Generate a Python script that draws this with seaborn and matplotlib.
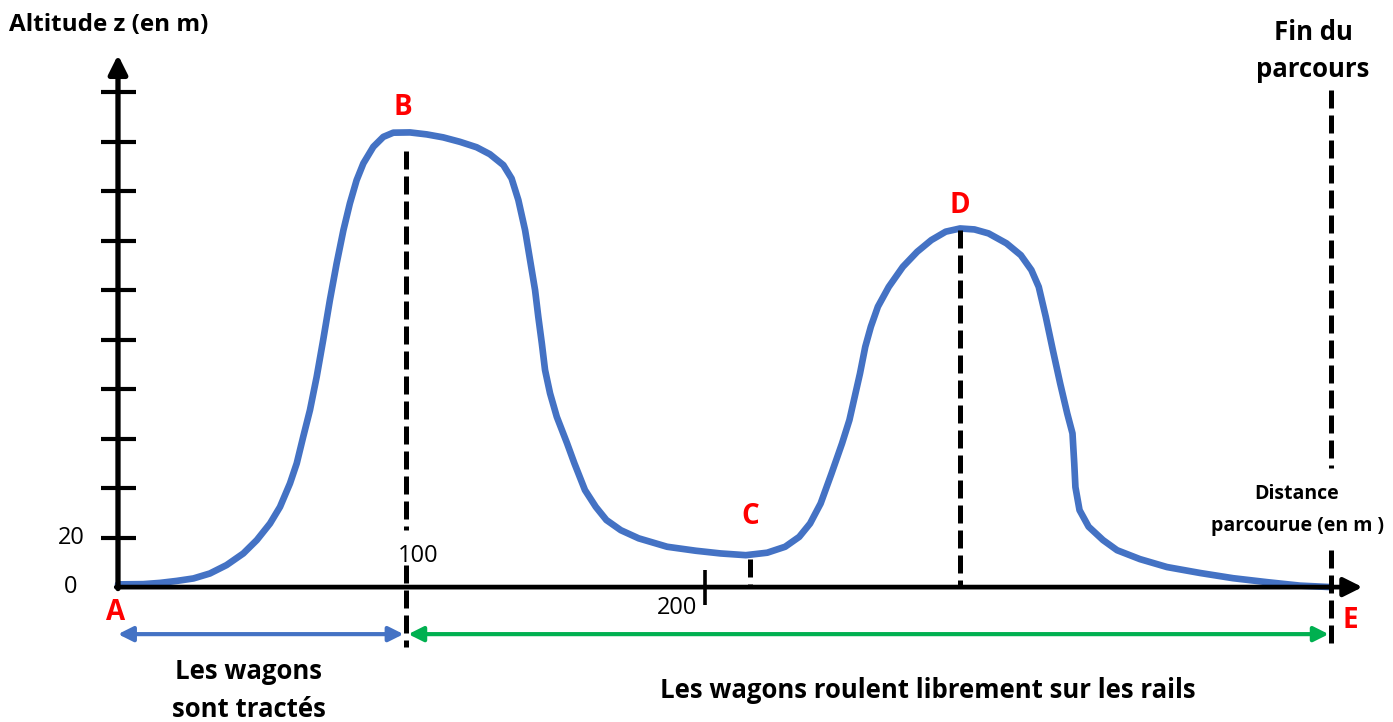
import numpy as np
import matplotlib
matplotlib.use("Agg")
import matplotlib.pyplot as plt
import seaborn as sns

distance = [0.0, 8.6, 14.3, 20.0, 25.7, 31.3, 37.0, 42.7, 47.3, 51.8, 55.2, 58.6,
            60.9, 63.1, 65.4, 67.7, 69.9, 72.2, 74.5, 76.8, 79.0, 81.3, 83.6, 87.0,
            90.4, 93.8, 99.5, 105.2, 110.8, 116.5, 122.2, 126.7, 131.3, 134.1, 136.4,
            138.7, 140.4, 142.1, 143.2, 144.4, 145.5, 147.2, 149.5, 153.0, 155.5,
            159.1, 162.8, 166.4, 171.3, 177.4, 187.1, 196.8, 205.3, 213.9, 221.2,
            227.3, 232.1, 235.8, 239.4, 243.1, 246.7, 249.2, 251.0, 252.8, 254.6,
            256.5, 258.9, 262.6, 267.4, 272.3, 277.1, 282.0, 286.9, 291.8, 296.6,
            302.7, 307.6, 311.2, 313.7, 316.1, 318.5, 321.0, 323.4, 325.2, 325.8,
            326.2, 327.6, 330.7, 335.6, 340.4, 348.2, 357.4, 368.7, 379.9, 391.5,
            402.7, 413.3]
altitude = [1.1, 1.2, 1.7, 2.5, 3.5, 5.5, 8.9, 13.6, 19.0, 25.7, 32.4, 41.9,
            50.0, 60.7, 71.5, 85.0, 99.8, 116.0, 130.8, 144.2, 155.0, 164.4, 171.2,
            177.9, 181.9, 183.6, 183.7, 182.9, 181.7, 179.9, 177.7, 174.9, 170.5,
            165.1, 156.4, 144.2, 132.1, 120.0, 109.2, 98.5, 87.7, 78.3, 68.8, 58.1,
            50.0, 39.2, 32.4, 27.1, 23.0, 19.7, 16.3, 14.7, 13.6, 12.9, 13.9, 16.3,
            20.3, 25.7, 33.8, 45.9, 58.1, 67.5, 76.9, 86.3, 97.1, 105.2, 113.3,
            121.3, 129.4, 135.5, 140.2, 143.6, 144.9, 144.5, 142.9, 138.9, 134.1,
            128.1, 121.3, 109.2, 95.8, 82.3, 70.2, 62.1, 50.0, 40.4, 31.1, 24.4,
            19.0, 14.9, 11.3, 8.1, 5.7, 3.6, 2.0, 0.6, 0.0]

# points remarquables
points = ["A", "B", "C", "D", "E"]
points_x = [0.0, 98.1, 215.3, 286.9, 413.3]
points_z = [0.0, 183.7, 12.9, 144.9, 0.0]

y_ticks = [20, 40, 60, 80, 100, 120, 140, 160, 180, 200]
y_tick_labels = ["0", "20"]
x_tick_labels = ["100", "200"]

blue = "#4472C4"
green = "#00B050"
red = "#FF0000"

sns.set_theme(style="white")
plt.rcParams['font.family'] = ['Open Sans', 'DejaVu Sans']

fig = plt.figure(figsize=(13.93, 7.22), dpi=100)
ax = fig.add_axes([0, 0, 1, 1])
ax.set_xlim(-40.2, 434.4)
ax.set_ylim(-54.5, 237.2)
ax.axis('off')

# axes avec fleches
ax.annotate("", xy=(0, 215), xytext=(0, -0.6),
            arrowprops=dict(arrowstyle="-|>", color="black", lw=3.8,
                            mutation_scale=28, shrinkA=0, shrinkB=0))
ax.annotate("", xy=(424, 0), xytext=(-0.6, 0),
            arrowprops=dict(arrowstyle="-|>", color="black", lw=3.4,
                            mutation_scale=28, shrinkA=0, shrinkB=0))
for t in y_ticks:
    ax.plot([-5.8, 6.1], [t, t], color="black", lw=3, solid_capstyle="butt")
ax.plot([200, 200], [6.9, -7.3], color="black", lw=2.6, solid_capstyle="butt")

# courbe
sns.lineplot(x=distance, y=altitude, ax=ax, color=blue, linewidth=4.8)
ax.lines[-1].set_solid_joinstyle("round")
ax.lines[-1].set_solid_capstyle("round")

# pointilles verticaux
dash = dict(color="black", lw=3.6, linestyle=(0, (3.6, 1.4)))
ax.plot([points_x[1]] * 2, [176, 23], **dash)
ax.plot([points_x[1]] * 2, [9, -24], **dash)
ax.plot([points_x[2]] * 2, [11.5, 0], **dash)
ax.plot([points_x[3]] * 2, [points_z[3] - 0.5, 0], **dash)
ax.plot([points_x[4]] * 2, [200.8, 48], **dash)
ax.plot([points_x[4]] * 2, [15, -24], **dash)

# fleches doubles
ax.annotate("", xy=(points_x[1] - 0.8, -19), xytext=(0, -19),
            arrowprops=dict(arrowstyle="<|-|>", color=blue, lw=3,
                            mutation_scale=22, shrinkA=0, shrinkB=0))
ax.annotate("", xy=(points_x[4] - 0.8, -19), xytext=(points_x[1] + 0.8, -19),
            arrowprops=dict(arrowstyle="<|-|>", color=green, lw=3,
                            mutation_scale=22, shrinkA=0, shrinkB=0))

# lettres
letter_pos = [(-0.7, -10.1), (97.1, 193.9), (215.3, 28.7), (286.9, 154.3), (419.8, -13.3)]
for name, (lx, ly) in zip(points, letter_pos):
    ax.text(lx, ly, name, color=red, fontsize=20, fontweight="bold",
            ha="center", va="center")

# graduations
num = dict(fontsize=17, ha="center", va="center", color="black")
ax.text(-16, 0, y_tick_labels[0], **num)
ax.text(-16, 20, y_tick_labels[1], **num)
ax.text(102.2, 12.5, x_tick_labels[0], **num)
ax.text(190.5, -8.5, x_tick_labels[1], **num)

# textes
bold = dict(fontweight="bold", ha="center", va="center", color="black")
ax.text(-3.1, 227.1, "Altitude z (en m)", fontsize=17.5, **bold)
ax.text(407.2, 216.6, "Fin du\nparcours", fontsize=18.5, linespacing=1.43, **bold)
ax.text(401.7, 31.1, "Distance\nparcourue (en m )", fontsize=14, linespacing=1.8, **bold)
ax.text(44.6, -41.6, "Les wagons\nsont tractés", fontsize=18.5, linespacing=1.52, **bold)
ax.text(276.0, -41.6, "Les wagons roulent librement sur les rails", fontsize=18.5, **bold)

fig.savefig("out.png", dpi=100, facecolor="white")
